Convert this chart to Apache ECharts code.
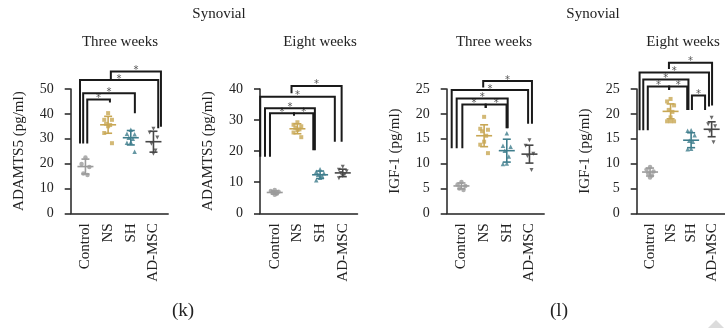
<!DOCTYPE html>
<html><head><meta charset="utf-8">
<script src="https://cdn.jsdelivr.net/npm/echarts@6/dist/echarts.min.js"></script>
<style>html,body{margin:0;padding:0;background:#fff}#c{width:725px;height:328px}</style>
</head><body><div id="c"></div>
<script>
// ---------- data ----------
const categories = ['Control', 'NS', 'SH', 'AD-MSC'];
const panelTitles = ['Three weeks', 'Eight weeks', 'Three weeks', 'Eight weeks'];
const sectionTitles = ['Synovial', 'Synovial'];
const figureLabels = ['(k)', '(l)'];
const yAxisNames = ['ADAMTS5 (pg/ml)', 'ADAMTS5 (pg/ml)', 'IGF-1 (pg/ml)', 'IGF-1 (pg/ml)'];
const yMax = [50, 40, 25, 25];
const yStep = [10, 10, 5, 5];

// (k) ADAMTS5, three weeks
const adamts5W3Control = [22.4, 19.8, 18.6, 16.0, 15.4];
const adamts5W3NS = [40.3, 37.6, 37.6, 36.0, 35.5, 35.0, 32.3, 28.2];
const adamts5W3SH = [33.6, 32.0, 31.8, 30.4, 30.0, 28.6, 28.4, 24.8];
const adamts5W3AD = [34.0, 32.5, 30.5, 28.0, 25.3, 24.0];
const adamts5W3Mean = [18.8, 35.6, 30.4, 28.8];
const adamts5W3SD = [3.0, 3.4, 2.9, 4.2];
// brackets: [from, to, top, leftBottom, rightBottom]
const adamts5W3Brackets = [[0, 1, 45.8, 28.1, 44.6], [0, 2, 48.3, 28.1, 40.2], [0, 3, 53.6, 28.1, 34.2], [1, 3, 57.0, 53.6, 34.8]];

// (k) ADAMTS5, eight weeks
const adamts5W8Control = [7.5, 7.2, 6.9, 6.6, 6.3, 6.0];
const adamts5W8NS = [29.3, 28.5, 28.0, 27.5, 27.0, 26.8, 26.0, 24.5];
const adamts5W8SH = [14.2, 13.4, 12.9, 12.4, 12.0, 11.4, 10.6];
const adamts5W8AD = [15.0, 14.0, 13.5, 13.0, 12.6, 12.0, 11.3];
const adamts5W8Mean = [6.7, 27.2, 12.4, 13.0];
const adamts5W8SD = [0.5, 1.6, 1.2, 1.2];
const adamts5W8Brackets = [[0, 1, 32.2, 18.2, 31.5], [1, 2, 32.2, 31.5, 20.3], [0, 2, 33.8, 18.2, 20.3], [0, 3, 37.5, 18.2, 23.0], [1, 3, 41.0, 38.6, 23.0]];

// (l) IGF-1, three weeks
const igf1W3Control = [6.3, 5.8, 5.5, 5.0, 4.7];
const igf1W3NS = [19.4, 17.0, 16.8, 16.5, 15.6, 14.4, 13.8, 12.1];
const igf1W3SH = [16.1, 13.6, 13.4, 12.6, 11.4, 10.0, 9.9];
const igf1W3AD = [14.7, 13.6, 12.0, 11.5, 8.7];
const igf1W3Mean = [5.5, 15.6, 12.6, 11.9];
const igf1W3SD = [0.6, 2.2, 2.3, 1.8];
const igf1W3Brackets = [[0, 1, 21.9, 13.1, 21.2], [1, 2, 21.9, 21.2, 17.1], [0, 2, 23.1, 13.1, 17.1], [0, 3, 24.8, 13.1, 18.0], [1, 3, 26.6, 25.3, 18.0]];

// (l) IGF-1, eight weeks
const igf1W8Control = [9.3, 8.8, 8.4, 8.0, 7.6, 7.2];
const igf1W8NS = [23.0, 22.5, 21.7, 20.8, 20.4, 19.3, 18.5, 18.5, 18.5];
const igf1W8SH = [16.7, 16.6, 15.7, 14.6, 14.4, 13.0, 12.9];
const igf1W8AD = [19.2, 17.9, 17.5, 16.5, 14.3];
const igf1W8Mean = [8.3, 20.5, 14.7, 16.9];
const igf1W8SD = [0.8, 1.5, 1.5, 1.5];
const igf1W8Brackets = [[0, 1, 25.5, 16.7, 24.8], [1, 2, 25.5, 24.8, 20.8], [0, 2, 26.9, 16.7, 20.8], [0, 3, 28.3, 16.7, 21.5], [1, 3, 30.3, 29.0, 21.7], [2, 3, 23.7, 20.8, 20.8]];

// ---------- layout / style (not data) ----------
const bracketLegOffsets = [
  [[0.08, 0.08], [-0.10, 0.18], [-0.24, 0.21], [0.12, 0.33]],
  [[-0.21, -0.15], [-0.15, -0.30], [-0.43, -0.23], [-0.64, -0.35], [-0.26, -0.05]],
  [[0.04, 0.07], [0.07, -0.01], [-0.21, 0.04], [-0.43, -0.06], [-0.04, 0.11]],
  [[-0.11, -0.07], [-0.07, -0.19], [-0.33, -0.13], [-0.51, -0.13], [-0.08, 0.02], [0.04, -0.32]]
];
const gridLefts = [70.7, 260, 446.7, 636.7];
const colors = ['#9b9b9b', '#c8a754', '#3e7d8c', '#464646'];
const symbols = ['circle', 'rect', 'triangle', 'triangle'];
const symbolRotations = [0, 0, 0, 180];
const symbolSizes = [4.5, 4, 4.5, 4];
const jitter = [0, -0.17, 0.17, -0.09, 0.09, 0, -0.17, 0.17, 0];
const FONT = 'Liberation Serif';

const panels = [
  { groups: [adamts5W3Control, adamts5W3NS, adamts5W3SH, adamts5W3AD], mean: adamts5W3Mean, sd: adamts5W3SD, br: adamts5W3Brackets },
  { groups: [adamts5W8Control, adamts5W8NS, adamts5W8SH, adamts5W8AD], mean: adamts5W8Mean, sd: adamts5W8SD, br: adamts5W8Brackets },
  { groups: [igf1W3Control, igf1W3NS, igf1W3SH, igf1W3AD], mean: igf1W3Mean, sd: igf1W3SD, br: igf1W3Brackets },
  { groups: [igf1W8Control, igf1W8NS, igf1W8SH, igf1W8AD], mean: igf1W8Mean, sd: igf1W8SD, br: igf1W8Brackets }
];

const grid = [], xAxis = [], yAxis = [], series = [];
panels.forEach((p, k) => {
  grid.push({ left: gridLefts[k], top: 89, width: 97.5, height: 124.3 });
  xAxis.push({
    gridIndex: k, type: 'value', min: -0.65, max: 3.65,
    axisLine: { show: true, onZero: false, lineStyle: { color: '#222', width: 1.5 } },
    axisTick: { show: false }, splitLine: { show: false },
    axisLabel: {
      customValues: [0, 1, 2, 3], rotate: 90, margin: 10,
      formatter: v => categories[Math.round(v)] || '',
      fontFamily: FONT, fontSize: 15, color: '#222'
    }
  });
  yAxis.push({
    gridIndex: k, type: 'value', min: 0, max: yMax[k], interval: yStep[k],
    name: yAxisNames[k], nameLocation: 'middle', nameRotate: 90, nameGap: 44,
    nameTextStyle: { fontFamily: FONT, fontSize: 15, color: '#222' },
    axisLine: { show: true, onZero: false, lineStyle: { color: '#222', width: 1.5 } },
    axisTick: { show: true, length: 6, lineStyle: { color: '#222', width: 1.5 } },
    splitLine: { show: false },
    axisLabel: { margin: 17, fontFamily: FONT, fontSize: 14, color: '#222' }
  });
  // points
  p.groups.forEach((vals, g) => {
    series.push({
      type: 'scatter', xAxisIndex: k, yAxisIndex: k,
      data: vals.map((v, i) => [g + jitter[i % jitter.length], v]),
      symbol: symbols[g], symbolRotate: symbolRotations[g], symbolSize: symbolSizes[g],
      itemStyle: { color: colors[g] }, silent: true, z: 3
    });
  });
  // mean ± SD
  series.push({
    type: 'custom', xAxisIndex: k, yAxisIndex: k, z: 4, silent: true,
    data: p.mean.map((m, g) => [g, m, p.sd[g]]),
    renderItem: (params, api) => {
      const g = api.value(0), m = api.value(1), s = api.value(2);
      const c = api.coord([g, m]), t = api.coord([g, m + s]), b = api.coord([g, m - s]);
      const st = { stroke: colors[g], lineWidth: 1.6 };
      return { type: 'group', children: [
        { type: 'line', shape: { x1: c[0], y1: t[1], x2: c[0], y2: b[1] }, style: st },
        { type: 'line', shape: { x1: c[0] - 8, y1: c[1], x2: c[0] + 8, y2: c[1] }, style: st },
        { type: 'line', shape: { x1: c[0] - 4, y1: t[1], x2: c[0] + 4, y2: t[1] }, style: st },
        { type: 'line', shape: { x1: c[0] - 4, y1: b[1], x2: c[0] + 4, y2: b[1] }, style: st }
      ] };
    }
  });
  // significance brackets
  series.push({
    type: 'custom', xAxisIndex: k, yAxisIndex: k, z: 5, silent: true, clip: false,
    data: p.br,
    renderItem: (params, api) => {
      const off = bracketLegOffsets[k][params.dataIndex];
      const a = api.value(0), b = api.value(1), top = api.value(2), lb = api.value(3), rb = api.value(4);
      const p1 = api.coord([a + off[0], lb]), p2 = api.coord([a + off[0], top]);
      const p3 = api.coord([b + off[1], top]), p4 = api.coord([b + off[1], rb]);
      return { type: 'group', children: [
        { type: 'polyline', shape: { points: [p1, p2, p3, p4] }, style: { stroke: '#1a1a1a', lineWidth: 2, fill: 'none' } },
        { type: 'text', style: { text: '*', x: (p2[0] + p3[0]) / 2, y: p2[1] - 1, align: 'center', verticalAlign: 'middle', fill: '#555', font: '10px "DejaVu Sans"' } }
      ] };
    }
  });
});

const graphic = [];
const titleX = [120, 320, 494, 683];
panelTitles.forEach((t, i) => graphic.push({ type: 'text', x: titleX[i], y: 42, style: { text: t, align: 'center', verticalAlign: 'middle', font: '15px "' + FONT + '"', fill: '#222' } }));
const secX = [219, 593];
sectionTitles.forEach((t, i) => graphic.push({ type: 'text', x: secX[i], y: 14, style: { text: t, align: 'center', verticalAlign: 'middle', font: '15px "' + FONT + '"', fill: '#222' } }));
const figX = [183, 559];
figureLabels.forEach((t, i) => graphic.push({ type: 'text', x: figX[i], y: 311, style: { text: t, align: 'center', verticalAlign: 'middle', font: '19px "' + FONT + '"', fill: '#222' } }));
graphic.push({ type: 'polygon', shape: { points: [[708, 328], [716, 320], [724, 328]] }, style: { fill: '#dcdcdc' } });

const chart = echarts.init(document.getElementById('c'), null, { renderer: 'canvas' });
chart.setOption({ animation: false, backgroundColor: '#fff', grid, xAxis, yAxis, series, graphic });
</script></body></html>
